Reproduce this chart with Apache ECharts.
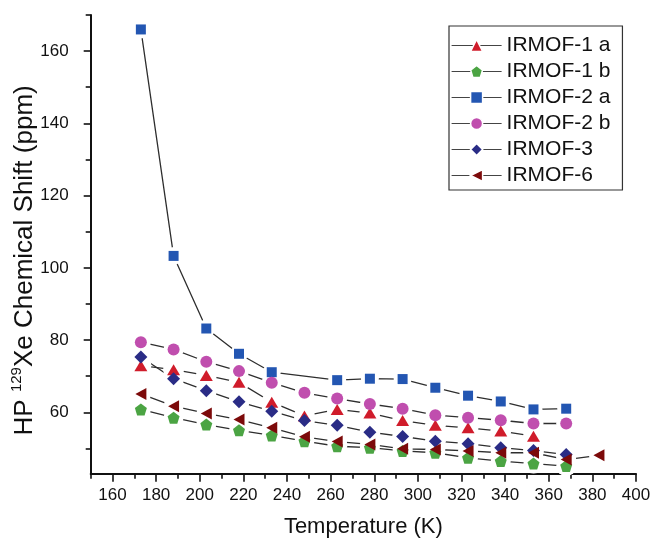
<!DOCTYPE html>
<html>
<head>
<meta charset="utf-8">
<script src="https://cdn.jsdelivr.net/npm/echarts@6/dist/echarts.min.js"></script>
<style>
html,body{margin:0;padding:0;background:#fff;}
#chart{width:652px;height:540px;}
</style>
</head>
<body>
<div id="chart"></div>
<script>
// ---- Data ----
const temperatures = [173, 188, 203, 218, 233, 248, 263, 278, 293, 308, 323, 338, 353, 368, 383];
const irmof1a = [72.9, 71.8, 70.2, 68.3, 62.8, 59.0, 60.8, 59.8, 57.7, 56.4, 55.7, 54.8, 53.4, null, null];
const irmof1b = [60.8, 58.5, 56.6, 55.0, 53.6, 52.0, 50.6, 50.2, 49.3, 48.8, 47.4, 46.5, 45.8, 45.1, null];
const irmof2a = [166.0, 103.3, 83.2, 76.2, 71.1, null, 68.9, 69.3, 69.2, 66.8, 64.6, 63.0, 60.8, 61.0, null];
const irmof2b = [79.4, 77.4, 74.0, 71.4, 68.2, 65.4, 63.8, 62.3, 61.0, 59.2, 58.5, 57.8, 56.9, 56.9, null];
const irmof3 = [75.3, 69.3, 66.0, 62.9, 60.3, 57.7, 56.4, 54.5, 53.3, 52.0, 51.3, 50.2, 49.4, 48.3, null];
const irmof6 = [65.1, 61.7, 59.7, 58.0, 55.7, 53.2, 51.9, 51.1, 49.9, 49.7, 49.3, 48.8, 48.8, 46.9, 48.1];

const seriesNames = ['IRMOF-1 a', 'IRMOF-1 b', 'IRMOF-2 a', 'IRMOF-2 b', 'IRMOF-3', 'IRMOF-6'];
const seriesValues = [irmof1a, irmof1b, irmof2a, irmof2b, irmof3, irmof6];

// tick values
const xMajorTicks = [160, 180, 200, 220, 240, 260, 280, 300, 320, 340, 360, 380, 400];
const xMinorTicks = [150, 170, 190, 210, 230, 250, 270, 290, 310, 330, 350, 370, 390];
const yMajorTicks = [60, 80, 100, 120, 140, 160];
const yMinorTicks = [50, 70, 90, 110, 130, 150, 170];

// ---- Styles ----
const pentagon = 'path://M0,-1 L0.951,-0.309 L0.588,0.809 L-0.588,0.809 L-0.951,-0.309 Z';
const styles = [
  {color: '#d01c2b', symbol: 'triangle', size: [13, 11], rotate: 0},
  {color: '#4ba443', symbol: pentagon, size: [12, 12], rotate: 0},
  {color: '#2356b2', symbol: 'rect', size: [10, 10], rotate: 0},
  {color: '#c04eae', symbol: 'circle', size: [12, 12], rotate: 0},
  {color: '#2a2c86', symbol: 'diamond', size: [13, 13], rotate: 0},
  {color: '#7c0a0a', symbol: 'triangle', size: [12, 11], rotate: 90}
];

function toData(vals) {
  return temperatures.map((t, i) => vals[i] == null ? [t, '-'] : [t, vals[i]]);
}

const series = [];
// connecting lines
seriesValues.forEach((vals, k) => {
  series.push({
    type: 'line', name: '_line' + k, data: toData(vals), xAxisIndex: 0, yAxisIndex: 0,
    showSymbol: false, symbol: 'none', connectNulls: true, silent: true, z: 1,
    lineStyle: {color: '#2e2e2e', width: 1.3}, animation: false
  });
});
// white halos (gap around the markers)
seriesValues.forEach((vals, k) => {
  const s = styles[k];
  series.push({
    type: 'scatter', name: '_halo' + k, data: toData(vals), xAxisIndex: 0, yAxisIndex: 0,
    symbol: 'circle', symbolSize: Math.max(s.size[0], s.size[1]) + 8,
    itemStyle: {color: '#ffffff', opacity: 1}, silent: true, z: 2, animation: false
  });
});
// markers
seriesValues.forEach((vals, k) => {
  const s = styles[k];
  series.push({
    type: 'line', name: seriesNames[k], data: toData(vals), xAxisIndex: 0, yAxisIndex: 0,
    symbol: s.symbol, symbolSize: s.size, symbolRotate: s.rotate, showSymbol: true,
    connectNulls: true, z: 3, animation: false,
    lineStyle: {width: 0, opacity: 0},
    itemStyle: {color: s.color, opacity: 1}
  });
});

const axisFont = 'Arial, "Liberation Sans", Helvetica, sans-serif';

const option = {
  backgroundColor: '#ffffff',
  animation: false,
  grid: {left: 90.7, right: 16, top: 15, bottom: 66.3, outerBoundsMode: 'none', containLabel: false},
  legend: {
    data: seriesNames.map((n, k) => ({
      name: n,
      itemStyle: {color: styles[k].color, borderColor: '#ffffff', borderWidth: 1.5}
    })),
    left: 449, top: 26, orient: 'vertical',
    padding: [9, 12, 4, 2],
    itemWidth: 50, itemHeight: 15, itemGap: 5,
    borderColor: '#333', borderWidth: 1.2,
    lineStyle: {color: '#444', width: 1.2, opacity: 1, type: 'solid'},
    textStyle: {fontFamily: axisFont, fontSize: 21, color: '#111', lineHeight: 21},
    selectedMode: false
  },
  xAxis: [
    {
      type: 'value', min: 150, max: 400, position: 'bottom',
      name: 'Temperature (K)', nameLocation: 'middle', nameGap: 42, nameMoveOverlap: false,
      nameTextStyle: {fontFamily: axisFont, fontSize: 22, color: '#111'},
      axisLine: {show: true, onZero: false, lineStyle: {color: '#111', width: 2}},
      axisTick: {show: true, inside: false, length: 8, customValues: xMajorTicks, lineStyle: {color: '#111', width: 1.6}},
      axisLabel: {show: true, customValues: xMajorTicks, margin: 13, fontFamily: axisFont, fontSize: 17, color: '#111'},
      splitLine: {show: false}, minorTick: {show: false}
    },
    {
      type: 'value', min: 150, max: 400, position: 'bottom',
      axisLine: {show: false, onZero: false},
      axisTick: {show: true, inside: false, length: 5, customValues: xMinorTicks, lineStyle: {color: '#111', width: 1.6}},
      axisLabel: {show: false}, splitLine: {show: false}
    }
  ],
  yAxis: [
    {
      type: 'value', min: 43, max: 170, position: 'left',
      name: 'HP {sup|129}Xe Chemical Shift (ppm)', nameLocation: 'middle', nameGap: 51, nameMoveOverlap: false,
      nameTextStyle: {
        fontFamily: axisFont, fontSize: 26, color: '#111', lineHeight: 30,
        padding: [0, 32, 0, 0],
        rich: {sup: {fontFamily: axisFont, fontSize: 15, color: '#111', verticalAlign: 'top', lineHeight: 30, padding: [0, 0, 12, 0]}}
      },
      axisLine: {show: true, onZero: false, lineStyle: {color: '#111', width: 2}},
      axisTick: {show: true, inside: false, length: 7, customValues: yMajorTicks, lineStyle: {color: '#111', width: 1.6}},
      axisLabel: {show: true, customValues: yMajorTicks, margin: 22, fontFamily: axisFont, fontSize: 17, color: '#111'},
      splitLine: {show: false}, minorTick: {show: false}
    },
    {
      type: 'value', min: 43, max: 170, position: 'left',
      axisLine: {show: false, onZero: false},
      axisTick: {show: true, inside: false, length: 5, customValues: yMinorTicks, lineStyle: {color: '#111', width: 1.6}},
      axisLabel: {show: false}, splitLine: {show: false}
    }
  ],
  series: series
};

const chart = echarts.init(document.getElementById('chart'), null, {renderer: 'canvas'});
chart.setOption(option);
</script>
</body>
</html>
